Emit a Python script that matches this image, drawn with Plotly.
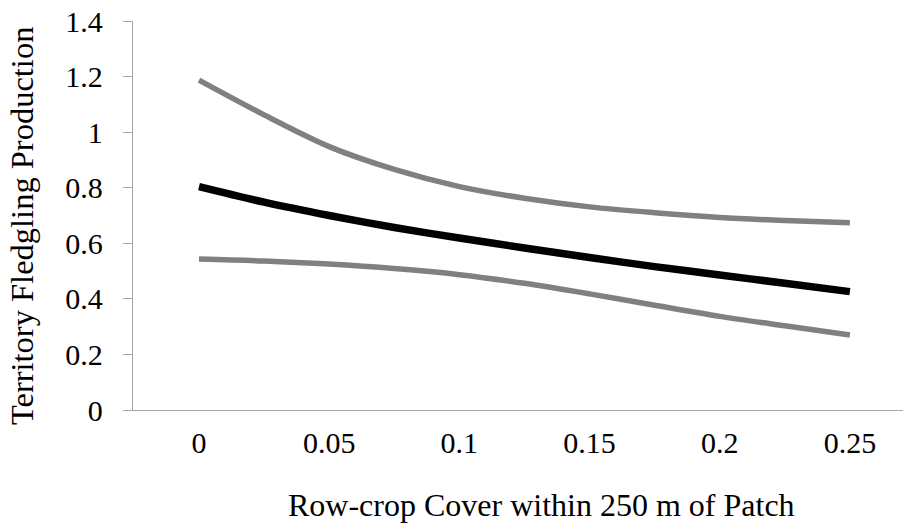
import plotly.graph_objects as go

x_cover = [0, 0.025, 0.05, 0.075, 0.1, 0.125, 0.15, 0.175, 0.2, 0.225, 0.25]
upper_ci = [1.187, 1.062, 0.948, 0.866, 0.804, 0.762, 0.731, 0.710, 0.693, 0.682, 0.674]
predicted = [0.804, 0.748, 0.700, 0.657, 0.619, 0.583, 0.549, 0.516, 0.486, 0.456, 0.426]
lower_ci = [0.543, 0.536, 0.525, 0.509, 0.487, 0.456, 0.418, 0.377, 0.337, 0.303, 0.270]

x_ticks = [0, 0.05, 0.1, 0.15, 0.2, 0.25]
x_tick_labels = ["0", "0.05", "0.1", "0.15", "0.2", "0.25"]
y_ticks = [0, 0.2, 0.4, 0.6, 0.8, 1.0, 1.2, 1.4]
y_tick_labels = ["0", "0.2", "0.4", "0.6", "0.8", "1", "1.2", "1.4"]

x_title = "Row-crop Cover within 250 m of Patch"
y_title = "Territory Fledgling Production"

FONT = "Liberation Serif, Times New Roman, serif"
AXIS_COLOR = "#a6a6a6"

fig = go.Figure()
for ys, color, width in [(upper_ci, "#808080", 5.5), (lower_ci, "#808080", 5.5), (predicted, "#000000", 7.5)]:
    fig.add_trace(go.Scatter(
        x=x_cover, y=ys, mode="lines",
        line=dict(color=color, width=width, shape="spline", smoothing=0.9),
        showlegend=False, hoverinfo="skip",
    ))

fig.update_layout(
    width=903, height=529,
    margin=dict(l=133, r=0, t=21, b=119),
    paper_bgcolor="white", plot_bgcolor="white",
    font=dict(family=FONT, color="black", size=30),
    xaxis=dict(
        range=[-0.02535, 0.2704],
        tickvals=x_ticks, ticktext=x_tick_labels,
        showgrid=False, zeroline=False,
        showline=True, linecolor=AXIS_COLOR, linewidth=1.3,
        ticks="", ticklabelstandoff=6,
        tickfont=dict(family=FONT, size=30, color="black"),
    ),
    yaxis=dict(
        range=[0, 1.4],
        tickvals=y_ticks, ticktext=y_tick_labels,
        showgrid=False, zeroline=False,
        showline=True, linecolor=AXIS_COLOR, linewidth=1.3,
        ticks="outside", ticklen=9, tickcolor=AXIS_COLOR, tickwidth=1.3,
        ticklabelstandoff=14,
        tickfont=dict(family=FONT, size=30, color="black"),
    ),
    annotations=[
        dict(text=x_title, xref="paper", yref="paper", x=0.53, y=-0.244,
             xanchor="center", yanchor="middle", showarrow=False,
             font=dict(family=FONT, size=32, color="black")),
        dict(text=y_title, xref="paper", yref="paper", x=-0.144, y=0.473,
             xanchor="center", yanchor="middle", showarrow=False, textangle=-90,
             font=dict(family=FONT, size=32.5, color="black")),
    ],
)

fig.write_html("out.html", config={"displayModeBar": False},
               post_script="document.body.style.margin='0';")
